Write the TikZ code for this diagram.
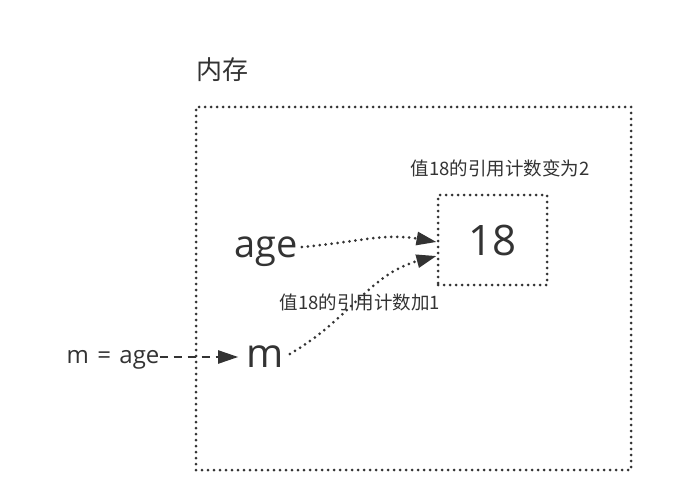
\documentclass[tikz,border=0pt]{standalone}
\usepackage{fontspec}
\setmainfont{Open Sans}
\newfontfamily\cjk{Noto Sans CJK SC}
\usetikzlibrary{arrows.meta}
\definecolor{ink}{HTML}{333333}

\begin{document}
\begin{tikzpicture}[x=1pt,y=-1pt,
  dotline/.style={draw=ink, line width=3pt, dash pattern=on 0pt off 6pt, line cap=round},
  tip/.style={-{Triangle[length=20pt,width=13pt]}},
  big/.style={text=ink, font=\fontsize{40}{42}\selectfont, inner sep=0pt, text depth=0pt},
  note/.style={text=ink, font=\cjk\fontsize{18.5}{20}\selectfont, inner sep=0pt}]
  \fill[white] (0,0) rectangle (680,500);
  \useasboundingbox (0,0) rectangle (680,500);
  % memory area and the value box
  \node[note, font=\cjk\fontsize{26}{28}\selectfont] (mem) at (222,70) {内存};
  \node[dotline, minimum width=435pt, minimum height=363pt] (heap) at (413.5,288.5) {};
  \node[dotline, minimum width=109pt, minimum height=90pt] (val) at (492.5,240) {};
  \node[big, font=\fontsize{42}{44}\selectfont] at (val.center) {18};
  \node[note] (note1) at (500,168) {值18的引用计数变为2};
  % names
  \node[big, font=\fontsize{38}{40}\selectfont] (age) at (266,247) {age};
  \node[big] (m) at (265,357) {m};
  \node[big, font=\fontsize{24}{26}\selectfont] (assign) at (113,357) {m\hspace{0.35em}=\hspace{0.35em}age};
  \node[note] (note2) at (360,302) {值18的引用计数加1};
  % references
  \draw[dotline, tip] ([xshift=4pt]age.east) to[out=5,in=170] ([yshift=-2pt]val.west);
  \draw[dotline, tip] ([xshift=6pt,yshift=3pt]m.east) to[out=30,in=195] ([yshift=-16pt]val.west);
  \draw[ink, line width=2.2pt, dash pattern=on 8pt off 6pt, tip] (assign.east) -- ([xshift=-8pt]m.west);
\end{tikzpicture}
\end{document}
